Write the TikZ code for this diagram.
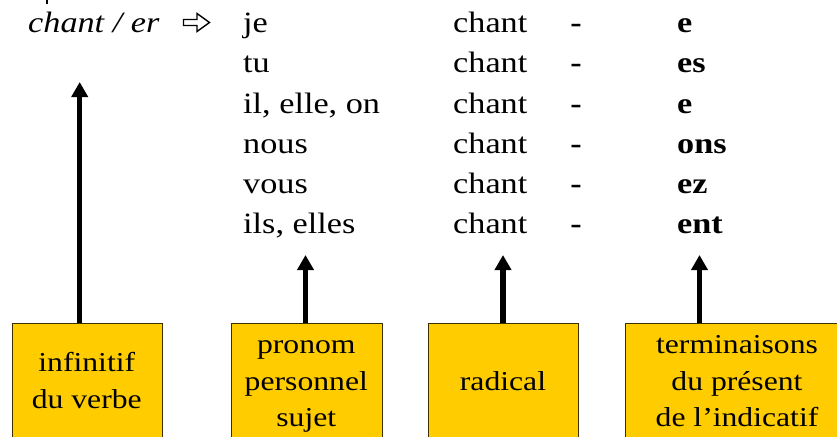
\documentclass[tikz,border=0pt]{standalone}
\usepackage{fontspec}
\setmainfont{Liberation Serif}[FakeStretch=1.16]
\usetikzlibrary{arrows.meta}
\definecolor{boxgold}{HTML}{FFCC00}
\definecolor{boxline}{HTML}{3A3000}
\tikzset{
  rowtext/.style={anchor=base west,inner sep=0pt,font=\fontsize{29.5}{35}\selectfont},
  rowbold/.style={rowtext,font=\fontsize{29.5}{35}\selectfont\bfseries},
  dashtext/.style={anchor=base,inner sep=0pt,font=\fontsize{29.5}{35}\selectfont\bfseries},
  labelbox/.style={draw=boxline,line width=1pt,fill=boxgold,inner sep=0pt},
  boxtext/.style={anchor=base,inner sep=0pt,font=\fontsize{27.3}{36.7}\selectfont},
  uparrow/.style={line width=5.5pt,-{Triangle[length=15pt,width=16pt]}}
}
\begin{document}
\begin{tikzpicture}[x=1pt,y=-1pt]
\path[use as bounding box,clip] (0,0) rectangle (837,436);
% tiny mark at top left
\draw[line width=2pt] (46.5,0) -- (46.5,4);
% infinitive
\node[rowtext,font=\fontsize{29.5}{35}\selectfont\itshape] (inf) at (28,33) {chant / er};
% outlined arrow
\draw[line width=1.4pt,line join=miter] (183.5,19.5) -- (197,19.5) -- (197,13.5) -- (209.5,22.5) -- (197,31.5) -- (197,25.5) -- (183.5,25.5) -- cycle;
% rows
\node[rowtext] (p1) at (243,33) {je};
\node[rowtext] (p2) at (243,73) {tu};
\node[rowtext] (p3) at (243,113) {il, elle, on};
\node[rowtext] (p4) at (243,153) {nous};
\node[rowtext] (p5) at (243,193) {vous};
\node[rowtext] (p6) at (243,233) {ils, elles};
\node[rowtext] (r1) at (453,33) {chant};
\node[rowtext] (r2) at (453,73) {chant};
\node[rowtext] (r3) at (453,113) {chant};
\node[rowtext] (r4) at (453,153) {chant};
\node[rowtext] (r5) at (453,193) {chant};
\node[rowtext] (r6) at (453,233) {chant};
\node[dashtext] (d1) at (576,33) {-};
\node[dashtext] (d2) at (576,73) {-};
\node[dashtext] (d3) at (576,113) {-};
\node[dashtext] (d4) at (576,153) {-};
\node[dashtext] (d5) at (576,193) {-};
\node[dashtext] (d6) at (576,233) {-};
\node[rowbold] (e1) at (677,33) {e};
\node[rowbold] (e2) at (677,73) {es};
\node[rowbold] (e3) at (677,113) {e};
\node[rowbold] (e4) at (677,153) {ons};
\node[rowbold] (e5) at (677,193) {ez};
\node[rowbold] (e6) at (677,233) {ent};
% boxes
\node[labelbox,minimum width=150pt,minimum height=118pt,anchor=north west] (b1) at (12,323) {};
\node[labelbox,minimum width=151pt,minimum height=118pt,anchor=north west] (b2) at (230.5,323) {};
\node[labelbox,minimum width=150.5pt,minimum height=118pt,anchor=north west] (b3) at (427.7,323) {};
\node[labelbox,minimum width=230pt,minimum height=118pt,anchor=north west] (b4) at (624.7,323) {};
% box texts
\node[boxtext] (b1a) at (86.8,371.7) {infinitif};
\node[boxtext] (b1b) at (86.8,408.3) {du verbe};
\node[boxtext] (b2a) at (306.3,353.3) {pronom};
\node[boxtext] (b2b) at (306.3,390.5) {personnel};
\node[boxtext] (b2c) at (306.3,426.7) {sujet};
\node[boxtext] (b3a) at (503,390.5) {radical};
\node[boxtext] (b4a) at (737,353.3) {terminaisons};
\node[boxtext] (b4b) at (737,390.5) {du présent};
\node[boxtext] (b4c) at (737,426.7) {de l’indicatif};
% arrow tips
\coordinate (t1) at (79.7,82);
\coordinate (t2) at (305.5,255);
\coordinate (t3) at (503,255);
\coordinate (t4) at (699.5,255);
\draw[uparrow] (b1.north -| t1) -- (t1);
\draw[uparrow] (b2.north -| t2) -- (t2);
\draw[uparrow] (b3.north -| t3) -- (t3);
\draw[uparrow] (b4.north -| t4) -- (t4);
\end{tikzpicture}
\end{document}
